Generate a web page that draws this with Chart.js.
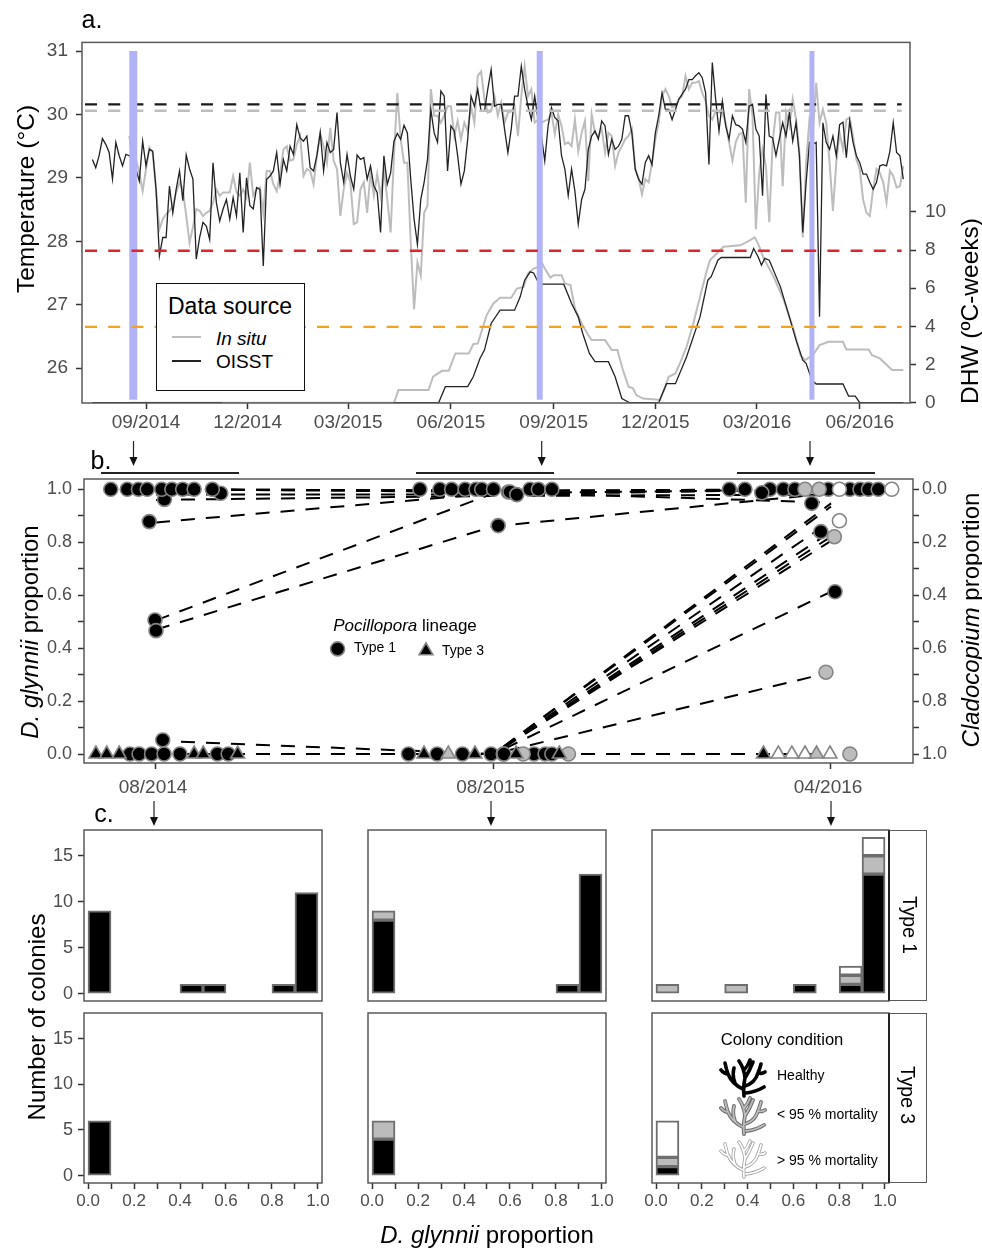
<!DOCTYPE html>
<html lang="en">
<head>
  <meta charset="UTF-8">
  <title>D. glynnii proportion, temperature and DHW</title>
  <script src="https://cdn.jsdelivr.net/npm/chart.js"></script>
  <style>
    body { margin: 0; background: #fff; font-family: "Liberation Sans", Arial, sans-serif; }
    #page { position: relative; width: 982px; height: 1249px; overflow: hidden; }
    canvas { position: absolute; }
    .txt { position: absolute; white-space: nowrap; color: #000; line-height: 1; }
    .box { position: absolute; box-sizing: border-box; }
    svg { position: absolute; left: 0; top: 0; }
  </style>
</head>
<body>
<div id="page"></div>
<script>
  // ---- panel a: temperature, one reading every 3 days from the start day
  const stepDays = 3;
  const oisstStartDay = -48;
  const situStartDay = -15;
  const oisstTemp = [
    29.29,29.16,29.35,29.62,29.53,29.40,28.98,29.56,29.35,29.19,
    29.37,29.35,29.29,29.14,28.95,29.58,29.19,29.45,29.42,28.82,
    27.77,28.06,28.06,28.87,28.45,28.82,29.11,28.64,29.36,29.14,
    28.98,27.72,28.06,28.30,28.24,28.03,29.24,28.61,28.32,28.51,
    28.66,28.35,28.69,28.40,29.08,28.14,29.00,28.56,28.51,28.85,
    28.82,27.61,28.98,29.03,29.11,29.40,28.90,29.29,29.11,
    29.50,29.37,29.84,29.63,29.58,29.66,29.16,29.11,29.35,29.72,
    29.11,29.56,29.40,29.45,30.03,29.24,28.93,29.37,29.03,28.82,
    29.36,29.29,29.32,28.98,29.19,28.87,28.77,28.14,29.35,28.90,
    29.08,29.58,29.70,29.61,29.83,29.71,28.98,28.35,27.95,28.66,
    28.93,29.29,30.08,29.71,29.56,30.37,30.29,29.11,29.82,29.74,
    29.35,28.90,29.11,29.61,30.29,30.13,30.40,30.05,30.05,30.40,30.71,
    30.13,30.16,30.16,29.77,29.40,29.77,30.29,30.29,30.76,30.40,
    30.13,29.92,30.29,29.92,29.66,29.27,29.82,30.11,29.95,29.90,
    29.35,29.14,28.72,29.14,28.79,28.27,28.66,28.82,29.45,29.66,
    29.74,29.61,29.90,29.82,29.37,29.61,29.45,29.50,29.61,29.98,
    29.98,29.71,29.14,28.98,28.90,29.24,29.35,29.21,29.71,29.98,
    30.34,30.08,30.08,29.92,30.08,30.24,30.32,30.40,30.55,30.55,30.61,
    30.66,30.58,30.34,29.21,30.82,30.24,29.74,30.21,29.82,29.61,
    29.98,29.84,29.82,29.77,29.56,30.13,30.16,29.77,29.66,28.72,
    30.32,29.66,29.63,29.35,29.61,29.87,29.66,30.03,29.58,29.87,
    29.35,28.14,28.93,29.56,29.53,29.56,26.81,29.87,29.56,29.45,
    29.66,29.35,29.84,29.88,29.32,29.90,29.56,29.35,29.24,29.06,
    29.06,28.93,28.82,28.93,29.19,29.21,29.19,29.42,29.87,29.40,
    29.35,28.98
  ];
  const situTemp = [
    29.66,29.35,29.29,29.08,28.79,29.14,29.48,29.40,28.82,28.19,
    28.35,28.43,28.48,28.56,28.77,28.93,28.82,28.40,27.98,28.22,
    28.51,28.48,28.40,28.45,28.48,28.61,28.82,28.72,28.77,28.77,
    28.77,29.03,28.77,28.72,28.82,28.69,29.24,28.72,28.82,28.85,
    28.45,29.11,29.11,28.90,28.79,29.06,29.45,29.50,
    29.27,29.29,29.53,29.66,29.03,29.14,29.11,28.90,29.35,29.69,
    29.50,29.24,29.79,29.27,29.14,28.40,28.82,29.08,28.93,28.27,
    28.30,28.82,28.93,28.45,29.08,28.72,29.06,28.72,29.14,28.66,
    28.14,29.35,30.34,29.61,29.24,29.24,27.98,26.93,27.67,27.46,
    28.45,28.56,30.40,29.98,29.98,29.87,29.98,30.13,30.13,29.66,
    29.90,29.61,29.87,29.74,30.13,29.87,30.61,30.68,30.24,30.03,30.05,
    30.29,29.98,30.19,29.87,30.03,30.05,30.13,29.66,30.29,30.76,
    30.29,30.40,29.87,29.92,29.87,29.90,29.92,30.03,29.69,30.00,
    29.82,29.53,29.56,29.50,29.92,29.42,29.71,29.90,28.95,30.00,
    29.71,29.66,29.77,29.40,29.71,29.66,29.19,29.40,29.50,29.61,
    29.66,29.77,29.14,29.00,28.74,28.98,28.93,29.24,29.61,29.87,
    30.29,30.40,30.29,30.11,30.13,30.24,30.29,30.61,30.40,30.50,30.50,
    30.53,30.34,30.21,29.98,29.92,30.05,30.03,30.03,29.87,29.56,
    29.27,29.56,29.69,29.71,28.61,30.40,29.98,28.19,29.08,29.45,
    29.19,28.30,29.56,30.03,30.03,28.87,30.03,29.82,30.24,29.92,
    29.40,28.06,29.24,29.92,29.71,30.50,29.87,30.08,29.87,29.24,
    28.48,29.24,29.71,29.45,29.92,29.95,29.66,29.29,29.14,28.66,
    28.45,28.40,28.82,29.14,29.08,28.93,28.61,29.11,29.03,28.85,
    28.87,29.19
  ];

  // ---- panel a: degree heating weeks
  const situDhwDays = [-15,222,226,253,257,265,271,277,289,293,297,305,311,317,327,332,338,342,347,351,354,357,362,365,372,375,380,384,390,396,399,411,417,422,427,432,436,439,445,457,460,465,468,474,478,484,490,496,502,505,514,517,532,541,545,548,553,562,571,580,586,590,597,603,611,624,627,647,650,657,668,678];
  const situDhw = [0,0,0.66,0.66,1.36,1.67,1.67,2.58,2.58,3.07,3.10,4.59,5.20,5.50,5.50,5.98,6.07,6.77,7.03,7.10,7.38,7.03,6.56,6.68,6.68,6.25,6.16,4.94,4.15,3.54,3.28,3.28,2.76,2.76,1.71,0.84,0.75,0.40,0.22,0.17,0.14,0.84,1.36,1.53,2.06,2.93,4.15,5.55,6.90,7.47,7.99,8.17,8.25,8.52,8.66,8.34,7.56,6.60,5.37,3.80,2.49,2.23,2.49,3.02,3.19,3.19,2.79,2.79,2.49,2.32,1.71,1.71];
  const oisstDhwDays = [-48,68,68,222,262,268,288,293,299,303,309,317,330,335,339,344,347,352,374,381,387,391,397,402,414,420,426,433,459,466,474,484,496,503,506,512,515,541,544,548,551,554,558,568,576,582,588,591,596,600,624,629,635,639,678];
  const oisstDhw = [0,0,null,0,0,0.84,0.84,1.36,2.32,2.76,4.15,4.85,4.85,5.55,6.42,6.86,6.80,6.21,6.21,5.20,4.50,3.63,2.58,2.15,2.15,1.36,0.22,0,0,1.00,1.00,2.41,4.50,6.42,6.60,7.47,7.61,7.61,8.08,7.65,7.21,7.56,7.47,6.07,4.50,3.28,2.23,2.06,1.19,0.98,0.98,0.35,0.35,0,0];

  const xTickDays = [0,91,181,273,365,456,547,639];
  const xTickLabels = ['09/2014','12/2014','03/2015','06/2015','09/2015','12/2015','03/2016','06/2016'];
  const samplingDays = [-11.4,352.5,596.2];
  const samplingWidths = [8,6,5];
  const thresholdTemps = [30.16,30.06,27.85,26.65];
  const thresholdColors = ['#1a1a1a','#bdbdbd','#e0242c','#f2a31c'];
  const thresholdDays = [-54.6,676.5];

  // ---- panel b: one array pair per marker kind (x: 0 = 08/2014, 1 = 08/2015, 2 = 04/2016)
  const circleHealthyX = [-0.134,-0.085,-0.052,-0.026,0.025,0.017,0.047,0.079,0.113,0.192,0.167,-0.02,-0.003,0,0.02,-0.077,-0.05,-0.013,0.024,0.071,0.182,0.214,
    0.782,0.841,0.876,0.916,0.948,0.965,1.0,1.044,1.049,1.069,1.108,1.133,1.173,1.014,0.748,0.833,0.908,0.993,1.029,1.031,1.12,1.153,1.173,
    1.699,1.745,1.819,1.859,1.893,1.795,1.992,2.056,2.086,2.111,2.14,1.943,1.97,2.012];
  const circleHealthyY = [1,1,1,1,0.962,1,1,1,1,0.985,1,0.878,0.506,0.466,0.053,0,0,0,0,0,0,0,
    1,1,1,1,1,1,1,0.99,0.99,0.98,1,1,1,0.863,0,0,0,0,0,0,0,0,0,
    1,1,1,1,1,0.987,1,1,1,1,1,0.947,0.84,0.613];
  const circleMidX = [1.088,1.222,1.923,1.965,2.01,1.985,2.056];
  const circleMidY = [0,0,1,1,0.821,0.309,0];
  const circleDeadX = [2.025,2.18,2.025];
  const circleDeadY = [1,1,0.881];
  const triHealthyX = [-0.178,-0.146,-0.109,0.113,0.14,0.242,0.794,0.945,1.067,1.195,1.8];
  const triHealthyY = [0,0,0,0,0,0,0,0,0,0,0];
  const triMidX = [0.866,1.957];
  const triMidY = [0,0];
  const triDeadX = [1.844,1.884,1.923,1.997];
  const triDeadY = [0,0,0,0];
  const legendCircleX = [0.538], legendCircleY = [0.397];
  const legendTriX = [0.8], legendTriY = [0.39];

  // colony proportions at each of the three sampling dates, joined by dashed lines
  const colonyAt2014 = [1,1,0.98,0.96,0.875,0.505,0.47,1,0.05,0,0,0,0,0,0,0,0,0];
  const colonyAt2015 = [0.995,0.995,0.98,0.975,0.985,0.985,0.86,0.99,0,0,0,0,0,0,0,0,0,0];
  const colonyAt2016 = [1,0.995,1,0.98,1,1,0.985,0.95,0.947,0.935,0.881,0.84,0.821,0.805,0.613,0.309,0,0];
  const dateTickX = [0,1,2];
  const dateTickLabels = ['08/2014','08/2015','04/2016'];

  // ---- panel c: colonies per proportion bin
  const binCenters = [0.05,0.15,0.25,0.35,0.45,0.55,0.65,0.75,0.85,0.95];
  const t1Aug14Healthy = [9,0,0,0,1,1,0,0,1,11];
  const t1Aug15Healthy = [8,0,0,0,0,0,0,0,1,13];
  const t1Aug15Mid     = [1,0,0,0,0,0,0,0,0,0];
  const t1Apr16Healthy = [0,0,0,0,0,0,1,0,1,13];
  const t1Apr16Mid     = [1,0,0,1,0,0,0,0,1,2];
  const t1Apr16Dead    = [0,0,0,0,0,0,0,0,1,2];
  const t3Aug14Healthy = [6,0,0,0,0,0,0,0,0,0];
  const t3Aug15Healthy = [4,0,0,0,0,0,0,0,0,0];
  const t3Aug15Mid     = [2,0,0,0,0,0,0,0,0,0];
  const t3Apr16Healthy = [1,0,0,0,0,0,0,0,0,0];
  const t3Apr16Mid     = [1,0,0,0,0,0,0,0,0,0];
  const t3Apr16Dead    = [4,0,0,0,0,0,0,0,0,0];
  const zeros = [0,0,0,0,0,0,0,0,0,0];

  const FONT = '"Liberation Sans", Arial, sans-serif';
  const TICK_COLOR = '#4d4d4d';
  const BORDER = '#5a5a5a';
  const BLACK_FILL = '#000', MID_FILL = '#bcbcbc', DEAD_FILL = '#fff', MARK_EDGE = '#858585';
  const page = document.getElementById('page');

  function pairs(xs, ys) { return xs.map((x, i) => ({ x: x, y: ys[i] })); }

  // canvas positioned so that the chart area lands on the given plot box
  function addChart(plot, m, config) {
    const c = document.createElement('canvas');
    c.width = plot.w + m.l + m.r;
    c.height = plot.h + m.t + m.b;
    c.style.left = (plot.x - m.l) + 'px';
    c.style.top = (plot.y - m.t) + 'px';
    page.appendChild(c);
    config.options.responsive = false;
    config.options.animation = false;
    config.options.layout = { padding: { top: m.t, bottom: 0, left: 0, right: m.hasRight ? 0 : m.r } };
    config.options.plugins = { legend: { display: false }, tooltip: { enabled: false } };
    config.plugins = [{
      id: 'plotBorder',
      afterDraw(chart) {
        const a = chart.chartArea, g = chart.ctx;
        g.save();
        g.strokeStyle = BORDER;
        g.lineWidth = 1.5;
        g.strokeRect(a.left, a.top, a.right - a.left, a.bottom - a.top);
        g.restore();
      }
    }];
    return new Chart(c, config);
  }

  function tickGrid(show) {
    return { drawOnChartArea: false, drawTicks: show, tickLength: 6, tickWidth: 1.5, tickColor: '#333' };
  }

  function label(text, x, y, size, opts) {
    opts = opts || {};
    const d = document.createElement('div');
    d.className = 'txt';
    d.innerHTML = text;
    d.style.fontSize = size + 'px';
    d.style.left = x + 'px';
    d.style.top = y + 'px';
    const anchor = opts.anchor === 'left' ? '0' : '-50%';
    d.style.transform = 'translate(' + anchor + ',-50%)' + (opts.rot ? ' rotate(' + opts.rot + 'deg)' : '');
    if (opts.color) d.style.color = opts.color;
    page.appendChild(d);
  }

  // ---- panel a
  const oisstSeries = oisstTemp.map((t, i) => ({ x: oisstStartDay + i * stepDays, y: t }));
  const situSeries = situTemp.map((t, i) => ({ x: situStartDay + i * stepDays, y: t }));
  const aSets = [];
  samplingDays.forEach((d, i) => aSets.push({
    data: pairs([d, d], [31, 25.5]), borderColor: '#b2b2f6', borderWidth: samplingWidths[i],
    showLine: true, pointRadius: 0, yAxisID: 'y', order: 2
  }));
  thresholdTemps.forEach((t, i) => aSets.push({
    data: pairs(thresholdDays, [t, t]), borderColor: thresholdColors[i], borderWidth: 2.4,
    borderDash: [12, 11.2], showLine: true, pointRadius: 0, yAxisID: 'y', order: t < 28 ? 1 : 3
  }));
  aSets.push({ data: situSeries, borderColor: '#bdbdbd', borderWidth: 2, showLine: true, pointRadius: 0, yAxisID: 'y', order: 5 });
  aSets.push({ data: oisstSeries, borderColor: '#222', borderWidth: 1.3, showLine: true, pointRadius: 0, yAxisID: 'y', order: 4 });
  aSets.push({ data: pairs(situDhwDays, situDhw), borderColor: '#bdbdbd', borderWidth: 2, showLine: true, pointRadius: 0, yAxisID: 'y2', order: 5 });
  aSets.push({ data: pairs(oisstDhwDays, oisstDhw), borderColor: '#222', borderWidth: 1.3, showLine: true, pointRadius: 0, yAxisID: 'y2', order: 4 });

  addChart({ x: 82, y: 42, w: 828, h: 361 }, { l: 60, r: 70, t: 20, b: 34, hasRight: true }, {
    type: 'scatter',
    data: { datasets: aSets },
    options: {
      scales: {
        x: {
          type: 'linear', min: -57.3, max: 684,
          grid: tickGrid(true), border: { display: false },
          afterBuildTicks(s) { s.ticks = xTickDays.map(v => ({ value: v })); },
          afterFit(s) { s.height = 34; },
          ticks: {
            autoSkip: false, maxRotation: 0, minRotation: 0, padding: 2, color: TICK_COLOR,
            font: { family: FONT, size: 19 },
            callback: v => xTickLabels[xTickDays.indexOf(v)]
          }
        },
        y: {
          position: 'left', min: 25.45, max: 31.137,
          grid: tickGrid(true), border: { display: false },
          afterFit(s) { s.width = 60; },
          ticks: { stepSize: 1, includeBounds: false, padding: 8, color: TICK_COLOR, font: { family: FONT, size: 19 } }
        },
        y2: {
          position: 'right', min: -0.015, max: 18.88,
          grid: tickGrid(true), border: { display: false },
          afterBuildTicks(s) { s.ticks = [0, 2, 4, 6, 8, 10].map(v => ({ value: v })); },
          afterFit(s) { s.width = 70; },
          ticks: { padding: 9, color: TICK_COLOR, font: { family: FONT, size: 19 } }
        }
      }
    }
  });

  // ---- panel b
  const bSets = [];
  colonyAt2014.forEach((v, i) => bSets.push({
    data: pairs(dateTickX, [v, colonyAt2015[i], colonyAt2016[i]]),
    borderColor: '#000', borderWidth: 2, borderDash: [14, 11],
    showLine: true, pointRadius: 0, yAxisID: 'y', order: 10
  }));
  function markSet(xs, ys, style, fill, r, edge) {
    bSets.push({
      data: pairs(xs, ys), pointStyle: style, pointRadius: r, pointBackgroundColor: fill,
      pointBorderColor: edge || MARK_EDGE, pointBorderWidth: 1.6, showLine: false, yAxisID: 'y', order: 1
    });
  }
  markSet(triHealthyX, triHealthyY, 'triangle', BLACK_FILL, 8);
  markSet(triMidX, triMidY, 'triangle', MID_FILL, 8);
  markSet(triDeadX, triDeadY, 'triangle', DEAD_FILL, 8);
  markSet(circleMidX, circleMidY, 'circle', MID_FILL, 7);
  markSet(circleDeadX, circleDeadY, 'circle', DEAD_FILL, 7);
  markSet(circleHealthyX, circleHealthyY, 'circle', BLACK_FILL, 7);
  markSet(legendCircleX, legendCircleY, 'circle', BLACK_FILL, 7);
  markSet(legendTriX, legendTriY, 'triangle', BLACK_FILL, 8);

  const propLabel = v => (Math.round(v * 10) % 2 === 0 ? v.toFixed(1) : '');
  addChart({ x: 84, y: 479, w: 829, h: 284 }, { l: 60, r: 60, t: 20, b: 38, hasRight: true }, {
    type: 'scatter',
    data: { datasets: bSets },
    options: {
      scales: {
        x: {
          type: 'linear', min: -0.2133, max: 2.243,
          grid: tickGrid(true), border: { display: false },
          afterBuildTicks(s) { s.ticks = dateTickX.map(v => ({ value: v })); },
          afterFit(s) { s.height = 38; },
          ticks: {
            autoSkip: false, maxRotation: 0, minRotation: 0, padding: 7, labelOffset: -3, color: TICK_COLOR,
            font: { family: FONT, size: 19 },
            callback: v => dateTickLabels[dateTickX.indexOf(v)]
          }
        },
        y: {
          position: 'left', min: -0.034, max: 1.039,
          grid: tickGrid(true), border: { display: false },
          afterFit(s) { s.width = 60; },
          ticks: { stepSize: 0.1, includeBounds: false, autoSkip: false, padding: 6, color: TICK_COLOR, font: { family: FONT, size: 18 }, callback: propLabel }
        },
        y2: {
          position: 'right', reverse: true, min: -0.039, max: 1.034,
          grid: tickGrid(true), border: { display: false },
          afterFit(s) { s.width = 60; },
          ticks: { stepSize: 0.1, includeBounds: false, autoSkip: false, padding: 3, color: TICK_COLOR, font: { family: FONT, size: 18 }, callback: propLabel }
        }
      }
    }
  });

  // ---- panel c
  function facet(plot, healthy, mid, dead, showY, showX) {
    const stackSet = (vals, fill) => ({
      data: pairs(binCenters, vals).filter(p => p.y > 0),
      backgroundColor: fill, borderColor: '#6e6e6e', borderWidth: 2, borderSkipped: false, barThickness: 23
    });
    addChart(plot, { l: 50, r: 20, t: 24, b: 34 }, {
      type: 'bar',
      data: { datasets: [stackSet(healthy, BLACK_FILL), stackSet(mid, MID_FILL), stackSet(dead, DEAD_FILL)] },
      options: {
        scales: {
          x: {
            type: 'linear', stacked: true, offset: false, min: -0.0175, max: 1.0175,
            grid: Object.assign(tickGrid(showX), { offset: false }), border: { display: false },
            afterBuildTicks(s) { s.ticks = [0,0.1,0.2,0.3,0.4,0.5,0.6,0.7,0.8,0.9,1].map(v => ({ value: v })); },
            afterFit(s) { s.height = 34; },
            ticks: {
              display: showX, autoSkip: false, maxRotation: 0, minRotation: 0, padding: 2, color: TICK_COLOR,
              font: { family: FONT, size: 17 }, callback: propLabel
            }
          },
          y: {
            stacked: true, min: -0.8, max: 17.8,
            grid: tickGrid(showY), border: { display: false },
            afterFit(s) { s.width = 50; },
            ticks: { display: showY, stepSize: 5, includeBounds: false, padding: 5, color: TICK_COLOR, font: { family: FONT, size: 18 } }
          }
        }
      }
    });
  }
  const topRow = { y: 830, h: 171 }, lowRow = { y: 1013, h: 170 };
  facet({ x: 84, y: topRow.y, w: 238, h: topRow.h }, t1Aug14Healthy, zeros, zeros, true, false);
  facet({ x: 368, y: topRow.y, w: 238, h: topRow.h }, t1Aug15Healthy, t1Aug15Mid, zeros, false, false);
  facet({ x: 652, y: topRow.y, w: 237, h: topRow.h }, t1Apr16Healthy, t1Apr16Mid, t1Apr16Dead, false, false);
  facet({ x: 84, y: lowRow.y, w: 238, h: lowRow.h }, t3Aug14Healthy, zeros, zeros, true, true);
  facet({ x: 368, y: lowRow.y, w: 238, h: lowRow.h }, t3Aug15Healthy, t3Aug15Mid, zeros, false, true);
  facet({ x: 652, y: lowRow.y, w: 237, h: lowRow.h }, t3Apr16Healthy, t3Apr16Mid, t3Apr16Dead, false, true);

  // ---- decorations above the canvases
  function box(x, y, w, h, css) {
    const d = document.createElement('div');
    d.className = 'box';
    d.style.cssText = 'left:' + x + 'px;top:' + y + 'px;width:' + w + 'px;height:' + h + 'px;' + css;
    page.appendChild(d);
  }

  // legend of panel a
  box(156, 283, 149, 108, 'background:#fff;border:1.5px solid #111;');
  label('Data source', 168, 306, 23, { anchor: 'left' });
  box(172, 336, 29, 2, 'background:#bdbdbd;');
  box(172, 360, 29, 2, 'background:#222;');
  label('<i>In situ</i>', 216, 338, 19, { anchor: 'left' });
  label('OISST', 216, 361, 19, { anchor: 'left' });

  // strips of panel c
  box(888, 830, 39, 171, 'border:1.5px solid ' + BORDER + ';border-left:2px solid #222;');
  box(888, 1013, 39, 170, 'border:1.5px solid ' + BORDER + ';border-left:2px solid #222;');
  label('Type 1', 909, 925, 19.4, { rot: 90 });
  label('Type 3', 907, 1095, 19.4, { rot: 90 });

  // arrows and date bars
  const svgNS = 'http://www.w3.org/2000/svg';
  const svg = document.createElementNS(svgNS, 'svg');
  svg.setAttribute('width', 982);
  svg.setAttribute('height', 1249);
  function arrow(x, y0, y1) {
    svg.innerHTML += '<line x1="' + x + '" y1="' + y0 + '" x2="' + x + '" y2="' + (y1 - 6) + '" stroke="#222" stroke-width="1.2"/>' +
      '<polygon points="' + (x - 4) + ',' + (y1 - 9) + ' ' + (x + 4) + ',' + (y1 - 9) + ' ' + x + ',' + y1 + '" fill="#111"/>';
  }
  [133.5, 541.7, 810].forEach(x => arrow(x, 441, 466));
  [154, 491, 831].forEach(x => arrow(x, 801, 826));
  [[101, 239], [416, 554], [737, 875]].forEach(s => {
    svg.innerHTML += '<line x1="' + s[0] + '" y1="473" x2="' + s[1] + '" y2="473" stroke="#222" stroke-width="2"/>';
  });

  // coral icons in the condition legend
  const CORAL = 'M24 38 Q23 28 25 20 Q24 10 19 3 M25 20 Q30 12 33 4 M24 12 Q28 8 30 2 M23 31 Q12 26 8 16 Q6 10 5 5 M8 16 Q4 16 1 12 M15 25 Q12 18 14 10 M25 28 Q35 25 38 15 Q40 10 41 6 M38 15 Q42 16 45 14 M26 35 Q36 34 44 29';
  function coral(x, y, outer, outerW, inner, innerW) {
    let s = '<g transform="translate(' + x + ',' + y + ')" fill="none" stroke-linecap="round" stroke-linejoin="round">' +
      '<path d="' + CORAL + '" stroke="' + outer + '" stroke-width="' + outerW + '"/>';
    if (inner) s += '<path d="' + CORAL + '" stroke="' + inner + '" stroke-width="' + innerW + '"/>';
    svg.innerHTML += s + '</g>';
  }
  coral(720, 1058, '#000', 3.6);
  coral(720, 1096, '#6e6e6e', 3.8, '#bcbcbc', 1.8);
  coral(720, 1139, '#a0a0a0', 3.4, '#fff', 1.8);
  page.appendChild(svg);

  // panel letters and titles
  label('a.', 92, 19, 25);
  label('b.', 101, 460, 25);
  label('c.', 104, 813, 25);
  label('Temperature (°C)', 26, 199, 24.5, { rot: -90 });
  label('DHW (ºC-weeks)', 970, 311, 24.5, { rot: -90 });
  label('<i>D. glynnii</i> proportion', 30, 632, 24, { rot: -90 });
  label('<i>Cladocopium</i> proportion', 971, 620, 24, { rot: -90 });
  label('Number of colonies', 37, 1017, 24, { rot: -90 });
  label('<i>D. glynnii</i> proportion', 487, 1235, 24);
  label('<i>Pocillopora</i> lineage', 405, 625, 17);
  label('Type 1', 354, 647, 14, { anchor: 'left' });
  label('Type 3', 442, 650, 14, { anchor: 'left' });
  label('Colony condition', 782, 1040, 16.6);
  label('Healthy', 777, 1075, 14, { anchor: 'left' });
  label('&lt; 95 % mortality', 777, 1114, 14, { anchor: 'left' });
  label('&gt; 95 % mortality', 777, 1160, 14, { anchor: 'left' });
</script>
</body>
</html>
